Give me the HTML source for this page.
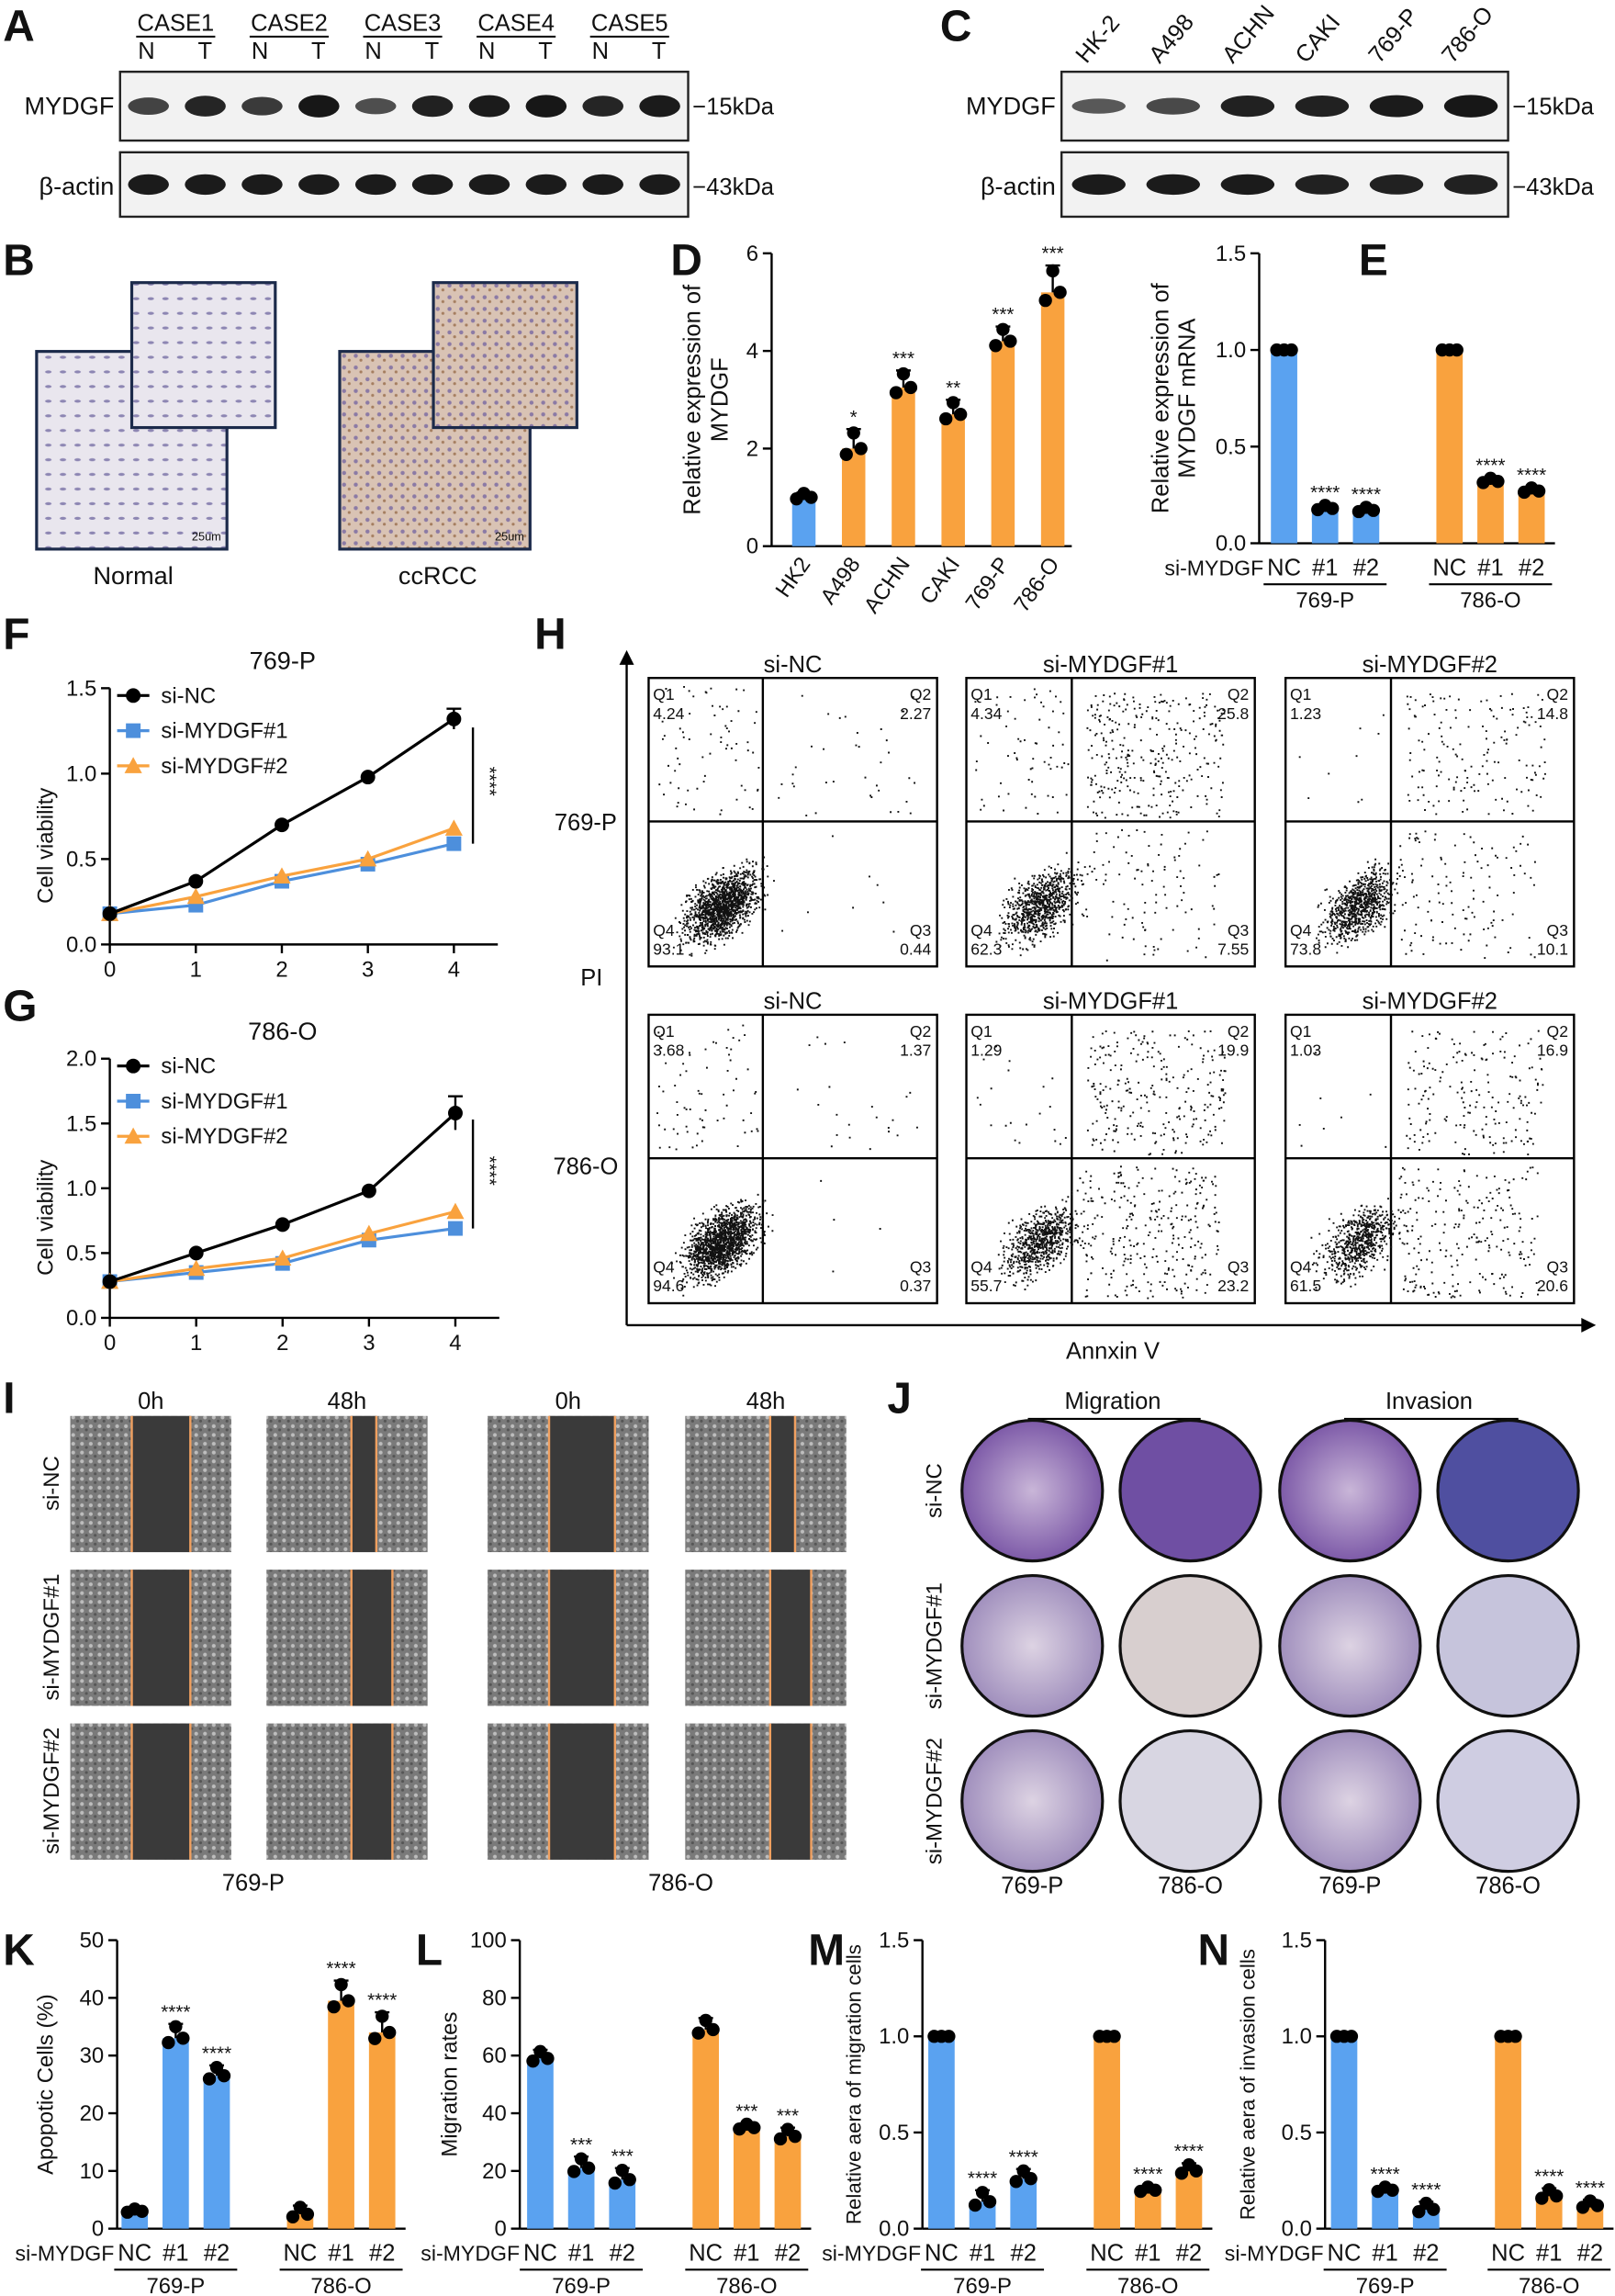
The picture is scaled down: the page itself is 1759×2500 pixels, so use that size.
<!DOCTYPE html>
<html><head><meta charset="utf-8"><style>
html,body{margin:0;padding:0;background:#fff}
svg{display:block}
text{font-family:"Liberation Sans",Arial,sans-serif;fill:#111}
</style></head><body>
<svg id="fig" width="1759" height="2500" viewBox="0 0 1103 1568" preserveAspectRatio="none" xmlns="http://www.w3.org/2000/svg">
<defs>
<pattern id="cells" width="6" height="6" patternUnits="userSpaceOnUse"><rect width="6" height="6" fill="#7a7a7a"/><circle cx="2" cy="2" r="1.3" fill="#bdbdbd"/><circle cx="5" cy="4.5" r="1" fill="#555"/></pattern>
<pattern id="ihcN" width="10" height="10" patternUnits="userSpaceOnUse"><rect width="10" height="10" fill="#e9e6ee"/><ellipse cx="3" cy="4" rx="2.2" ry="1" fill="#8d86b3"/></pattern>
<pattern id="ihcT" width="8" height="8" patternUnits="userSpaceOnUse"><rect width="8" height="8" fill="#d9c3b4"/><circle cx="3" cy="3" r="1.4" fill="#8b7aa5"/><circle cx="6.5" cy="6" r="1" fill="#a57e60"/></pattern>
<radialGradient id="migA"><stop offset="0" stop-color="#c9b6d8"/><stop offset="1" stop-color="#7d5aa8"/></radialGradient>
<radialGradient id="migB"><stop offset="0" stop-color="#ddd3e3"/><stop offset="1" stop-color="#a08fbd"/></radialGradient>
</defs>
<g id="root"></g>
</svg>
<script>
// ---- data ----
const dCats=["HK2","A498","ACHN","CAKI","769-P","786-O"];
const dVals=[1.0,2.0,3.25,2.7,4.2,5.2];
const dStars=["","*","***","**","***","***"];
const eVals769=[1,0.18,0.17], eVals786=[1,0.32,0.27];
const fX=[0,1,2,3,4];
const fNC=[0.18,0.37,0.70,0.98,1.32], fS1=[0.18,0.23,0.37,0.47,0.59], fS2=[0.18,0.28,0.40,0.50,0.68];
const gNC=[0.28,0.50,0.72,0.98,1.58], gS1=[0.28,0.35,0.42,0.60,0.69], gS2=[0.28,0.38,0.46,0.65,0.82];
const hQ1=[["4.24","2.27","0.44","93.1"],["4.34","25.8","7.55","62.3"],["1.23","14.8","10.1","73.8"]];
const hQ2=[["3.68","1.37","0.37","94.6"],["1.29","19.9","23.2","55.7"],["1.03","16.9","20.6","61.5"]];
const kVals769=[3,33,26.5], kVals786=[2.5,39.5,34];
const lVals769=[59,21,17], lVals786=[69,35,32];
const mVals769=[1,0.14,0.26], mVals786=[1,0.20,0.30];
const nVals769=[1,0.20,0.10], nVals786=[1,0.17,0.12];
const BLUE="#5aa2f0", ORANGE="#f9a23e";
// ---- helpers ----
const NS="http://www.w3.org/2000/svg";
const root=document.getElementById('root');
function el(tag,attrs,parent,txt){const e=document.createElementNS(NS,tag);for(const k in attrs)e.setAttribute(k,attrs[k]);if(txt!==undefined)e.textContent=txt;(parent||root).appendChild(e);return e;}
function txt(x,y,s,size,anchor,parent,extra){const t=el('text',Object.assign({x:x,y:y,'font-size':size,'text-anchor':anchor||'middle'},extra||{}),parent,s);

return t;}
function line(x1,y1,x2,y2,w,c,p){return el('line',{x1,y1,x2,y2,stroke:c||'#000','stroke-width':w||1.5},p);}
function letter(s,x,y){const t=txt(x,y,s,30,'start',root,{'font-weight':'bold'});
}
let seed=7;function rnd(){seed=(seed*16807)%2147483647;return seed/2147483647;}
function gauss(){return (rnd()+rnd()+rnd()-1.5)/1.5;}

// ---- A / C blots ----
function blot(x0,x1,y0,y1,n,intens,name){const g=el('g',{});


el('rect',{x:x0,y:y0,width:x1-x0,height:y1-y0,fill:'#f2f2f2',stroke:'#222','stroke-width':1.5},g);
const w=(x1-x0)/n;for(let i=0;i<n;i++){el('ellipse',{cx:x0+w*(i+0.5),cy:(y0+y1)/2,rx:w*0.36,ry:(y1-y0)*0.14*(0.6+intens[i]*0.6),fill:'#111',opacity:0.55+0.45*intens[i]},g);}return g;}
letter('A',2,28);
const cases=["CASE1","CASE2","CASE3","CASE4","CASE5"];
cases.forEach((c,i)=>{const cx=120+i*77.5;txt(cx,21,c,16);line(cx-27,25,cx+27,25,1.2);txt(cx-20,40,'N',16);txt(cx+20,40,'T',16);});
txt(78,78,'MYDGF',17,'end');txt(78,133,'β-actin',17,'end');
blot(82,470,49,96,10,[0.5,0.8,0.6,0.95,0.4,0.85,0.9,0.95,0.8,0.9],'blot-a-mydgf');
blot(82,470,104,148,10,[0.9,0.9,0.9,0.9,0.9,0.9,0.9,0.9,0.9,0.9],'blot-a-actin');
txt(473,78,'−15kDa',16,'start');txt(473,133,'−43kDa',16,'start');
letter('C',642,28);
const cl=["HK-2","A498","ACHN","CAKI","769-P","786-O"];
cl.forEach((c,i)=>{txt(742+i*50,44,c,16,'start',root,{transform:`rotate(-50 ${742+i*50} 44)`});});
txt(721,78,'MYDGF',17,'end');txt(721,133,'β-actin',17,'end');
blot(725,1030,49,96,6,[0.3,0.45,0.85,0.85,0.9,0.95],'blot-c-mydgf');
blot(725,1030,104,148,6,[0.9,0.9,0.9,0.85,0.85,0.85],'blot-c-actin');
txt(1033,78,'−15kDa',16,'start');txt(1033,133,'−43kDa',16,'start');

// ---- B IHC ----
letter('B',2,188);
function ihc(x,y,w,h,fill,name){const r=el('rect',{x,y,width:w,height:h,fill,stroke:'#1b2a4a','stroke-width':2});

}
ihc(25,240,130,135,'url(#ihcN)','ihc-normal');ihc(90,193,98,99,'url(#ihcN)','ihc-normal-inset');
ihc(232,240,130,135,'url(#ihcT)','ihc-ccrcc');ihc(296,193,98,99,'url(#ihcT)','ihc-ccrcc-inset');
txt(141,369,'25um',8);txt(348,369,'25um',8);
txt(91,399,'Normal',17);txt(299,399,'ccRCC',17);

// ---- generic bar chart ----
function yAxis(p,x,y0,y1,vmin,vmax,ticks,fmt,fs){line(x,y0,x,y1,1.5,'#000',p);ticks.forEach(t=>{const y=y0-(t-vmin)/(vmax-vmin)*(y0-y1);line(x-6,y,x,y,1.5,'#000',p);txt(x-9,y+5,fmt(t),fs||15,'end',p);});}
function barSet(p,xs,vals,col,sc,y0,w,stars,spread){vals.forEach((v,i)=>{const x=xs[i],y=sc(v);
const b=el('rect',{x:x-w/2,y:y,width:w,height:y0-y,fill:col},p);


const sd=spread[i];line(x,sc(v+sd),x,y,1.5,'#000',p);line(x-5,sc(v+sd),x+5,sc(v+sd),1.5,'#000',p);
[[-5,v],[5,v],[0,v+sd*0.8]].forEach((d,j)=>el('circle',{cx:x+d[0],cy:sc(d[1]-(j==0?sd*0.3:0)),r:4.5,fill:'#000'},p));
if(stars&&stars[i])txt(x,sc(v+sd)-4,stars[i],13,'middle',p);});}
// D
(function(){const p=el('g',{});
letter('D',458,188);const y0=373,y1=173,sc=v=>y0-v/6*(y0-y1);
yAxis(p,527,y0,y1,0,6,[0,2,4,6],t=>t);line(527,y0,732,y0,1.5,'#000',p);
txt(478,273,'Relative expression of',16,'middle',p,{transform:'rotate(-90 478 273)'});txt(497,273,'MYDGF',16,'middle',p,{transform:'rotate(-90 497 273)'});
const xs=dCats.map((c,i)=>549+i*34);
barSet(p,xs.slice(0,1),dVals.slice(0,1),BLUE,sc,y0,16,null,[0.1]);
barSet(p,xs.slice(1),dVals.slice(1),ORANGE,sc,y0,16,dStars.slice(1),[0.4,0.35,0.3,0.3,0.55]);
dCats.forEach((c,i)=>txt(xs[i]+5,385,c,15,'end',p,{transform:`rotate(-55 ${xs[i]+5} 385)`}));})();
// E,K,L,M,N group charts
function groupChart(name,L,lx,ly,ax,y0,y1,vmax,ticks,fmt,v1,v2,xs1,xs2,stars1,stars2,title,tx,fs,sd){const p=el('g',{});
letter(L,lx,ly);const sc=v=>y0-v/vmax*(y0-y1);yAxis(p,ax,y0,y1,0,vmax,ticks,fmt);line(ax,y0,xs2[2]+16,y0,1.5,'#000',p);
title.forEach((t,i)=>txt(tx+i*18,(y0+y1)/2,t,fs,'middle',p,{transform:`rotate(-90 ${tx+i*18} ${(y0+y1)/2})`}));
barSet(p,xs1,v1,BLUE,sc,y0,18,stars1,sd[0]);barSet(p,xs2,v2,ORANGE,sc,y0,18,stars2,sd[1]);
txt(xs1[0]-14,y0+22,'si-MYDGF',14.5,'end',p);
[[xs1,'769-P'],[xs2,'786-O']].forEach(g=>{['NC','#1','#2'].forEach((s,i)=>txt(g[0][i],y0+22,s,16,'middle',p));line(g[0][0]-14,y0+28,g[0][2]+14,y0+28,1.3,'#000',p);txt(g[0][1],y0+44,g[1],15,'middle',p);});}
const st4=["","****","****"],st3=["","***","***"];
groupChart('chart-e','E',928,188,860,371,173,1.5,[0,0.5,1,1.5],t=>t.toFixed(1),eVals769,eVals786,[877,905,933],[990,1018,1046],st4,st4,['Relative expression of','MYDGF mRNA'],798,16,[[0,0.02,0.02],[0,0.02,0.02]]);
groupChart('chart-k','K',2,1342,80,1522,1325,50,[0,10,20,30,40,50],t=>t,kVals769,kVals786,[92,120,148],[205,233,261],st4,st4,['Apopotic Cells (%)'],36,15,[[0.5,2.5,1.8],[1.5,3.5,3.5]]);
groupChart('chart-l','L',284,1342,355,1522,1325,100,[0,20,40,60,80,100],t=>t,lVals769,lVals786,[369,397,425],[482,510,538],st3,st3,['Migration rates'],312,15,[[3,4,4],[4,1.5,3]]);
groupChart('chart-m','M',552,1342,630,1522,1325,1.5,[0,0.5,1,1.5],t=>t.toFixed(1),mVals769,mVals786,[643,671,699],[756,784,812],st4,st4,['Relative aera of migration cells'],588,14,[[0,0.06,0.05],[0,0.02,0.04]]);
groupChart('chart-n','N',818,1342,905,1522,1325,1.5,[0,0.5,1,1.5],t=>t.toFixed(1),nVals769,nVals786,[918,946,974],[1030,1058,1086],st4,st4,['Relative aera of invasion cells'],857,14,[[0,0.02,0.04],[0,0.04,0.03]]);

// ---- F / G line charts ----
function lineChart(name,L,ly,ax,x4,y0,y1,vmax,ticks,nc,s1,s2,title,sd){const p=el('g',{});
letter(L,2,ly);const sx=v=>ax+v/4*(x4-ax),sy=v=>y0-v/vmax*(y0-y1);
yAxis(p,ax,y0,y1,0,vmax,ticks,t=>t.toFixed(1));line(ax,y0,x4+30,y0,1.5,'#000',p);
fX.forEach(v=>{line(sx(v),y0,sx(v),y0+6,1.5,'#000',p);txt(sx(v),y0+22,v,15,'middle',p);});
txt(193,y1-13,title,17,'middle',p);txt(36,(y0+y1)/2+20,'Cell viability',15,'middle',p,{transform:`rotate(-90 36 ${(y0+y1)/2+20})`});
[[s1,'#4d8fdc','sq'],[s2,ORANGE,'tri'],[nc,'#000','ci']].forEach(sr=>{const pts=fX.map((x,i)=>sx(x)+','+sy(sr[0][i])).join(' ');
const pl=el('polyline',{points:pts,fill:'none',stroke:sr[1],'stroke-width':2},p);
fX.forEach((x,i)=>{const cx=sx(x),cy=sy(sr[0][i]);if(sr[2]=='sq')el('rect',{x:cx-5,y:cy-5,width:10,height:10,fill:sr[1]},p);else if(sr[2]=='tri')el('polygon',{points:`${cx},${cy-6} ${cx-6},${cy+5} ${cx+6},${cy+5}`,fill:sr[1]},p);else el('circle',{cx,cy,r:5,fill:'#000'},p);});});
const top=sy(nc[4]+sd),bot=sy(nc[4]-sd);line(sx(4),top,sx(4),bot,1.5,'#000',p);line(sx(4)-5,top,sx(4)+5,top,1.5,'#000',p);
line(323,sy(nc[4]-0.05),323,sy(s1[4]),1.5,'#000',p);txt(330,(sy(nc[4])+sy(s1[4]))/2,'****',13,'middle',p,{transform:`rotate(90 330 ${(sy(nc[4])+sy(s1[4]))/2})`});
[['si-NC','#000','ci'],['si-MYDGF#1','#4d8fdc','sq'],['si-MYDGF#2',ORANGE,'tri']].forEach((lg,i)=>{const y=y1+5+i*24;line(80,y,102,y,2,lg[1],p);
if(lg[2]=='ci')el('circle',{cx:91,cy:y,r:5,fill:'#000'},p);else if(lg[2]=='sq')el('rect',{x:86,y:y-5,width:10,height:10,fill:lg[1]},p);else el('polygon',{points:`91,${y-6} 85,${y+5} 97,${y+5}`,fill:lg[1]},p);
txt(110,y+5,lg[0],15,'start',p);});}
lineChart('chart-f','F',443,75,310,645,470,1.5,[0,0.5,1,1.5],fNC,fS1,fS2,'769-P',0.06);
lineChart('chart-g','G',697,75,311,900,723,2.0,[0,0.5,1,1.5,2],gNC,gS1,gS2,'786-O',0.13);

// ---- H flow ----
letter('H',365,443);
(function(){const p=el('g',{});
line(428,905,1082,905,1.5,'#000',p);el('polygon',{points:'1090,905 1080,900 1080,910',fill:'#000'},p);
line(428,905,428,452,1.5,'#000',p);el('polygon',{points:'428,444 423,454 433,454',fill:'#000'},p);
txt(404,673,'PI',16,'middle',p);txt(760,928,'Annxin V',16,'middle',p);txt(400,567,'769-P',16,'middle',p);txt(400,802,'786-O',16,'middle',p);
const cols=[443,660,878],names=['si-NC','si-MYDGF#1','si-MYDGF#2'],W=197,H=197;
[[463,hQ1],[693,hQ2]].forEach((row,r)=>{cols.forEach((x,c)=>{const y=row[0],q=row[1][c];txt(x+W/2,y-4,names[c],16,'middle',p);
el('rect',{x,y,width:W,height:H,fill:'#fff',stroke:'#000','stroke-width':1.5},p);
const mx=x+(c==0?78:72),my=y+98;line(mx,y,mx,y+H,1.5,'#000',p);line(x,my,x+W,my,1.5,'#000',p);
let d='';const n=[1600,1300,1100][c];for(let i=0;i<n;i++){const f=rnd();let px,py;const qv=q.map(parseFloat);
if(f<qv[3]/100){px=x+40+gauss()*30+(rnd()*20);py=y+160+gauss()*30-(px-x-40)*0.5;}else if(f<(qv[3]+qv[1])/100){px=mx+10+rnd()*95;py=y+10+rnd()*85;}else if(f<(qv[3]+qv[1]+qv[2])/100){px=mx+5+rnd()*95;py=my+5+rnd()*90;}else{px=x+5+rnd()*(mx-x-8);py=y+5+rnd()*88;}
px=Math.max(x+2,Math.min(x+W-2,px));py=Math.max(y+2,Math.min(y+H-2,py));d+=`M${px.toFixed(1)} ${py.toFixed(1)}h1.2v1.2h-1.2z`;}
el('path',{d,fill:'#111'},p);
txt(x+3,y+15,'Q1',11,'start',p);txt(x+3,y+28,q[0],11,'start',p);txt(x+W-4,y+15,'Q2',11,'end',p);txt(x+W-4,y+28,q[1],11,'end',p);
txt(x+3,y+176,'Q4',11,'start',p);txt(x+3,y+189,q[3],11,'start',p);txt(x+W-4,y+176,'Q3',11,'end',p);txt(x+W-4,y+189,q[2],11,'end',p);});});})();

// ---- I wound ----
letter('I',2,965);
(function(){const p=el('g',{});
const xs=[48,182,333,468],rows=[967,1072,1177],gaps=[[40,35],[55,17],[45,40],[55,17]];
['0h','48h','0h','48h'].forEach((t,i)=>txt(xs[i]+55,962,t,16,'middle',p));
['si-NC','si-MYDGF#1','si-MYDGF#2'].forEach((t,i)=>txt(40,rows[i]+46,t,15,'middle',p,{transform:`rotate(-90 40 ${rows[i]+46})`}));
rows.forEach((y,r)=>xs.forEach((x,c)=>{el('rect',{x,y,width:110,height:93,fill:'url(#cells)'},p);
const g=gaps[c],w=c%2?(r==0?g[1]:28):g[0];const gx=x+(c%2?58:42);el('rect',{x:gx,y,width:w,height:93,fill:'#3a3a3a'},p);
line(gx,y,gx,y+93,1.5,'#f0a060',p);line(gx+w,y,gx+w,y+93,1.5,'#f0a060',p);}));
txt(173,1291,'769-P',16,'middle',p);txt(465,1291,'786-O',16,'middle',p);})();

// ---- J transwell ----
letter('J',606,965);
(function(){const p=el('g',{});
txt(760,962,'Migration',16,'middle',p);line(702,969,820,969,1.3,'#000',p);txt(976,962,'Invasion',16,'middle',p);line(918,969,1037,969,1.3,'#000',p);
const cx=[705,813,922,1030],cy=[1018,1124,1230];
['si-NC','si-MYDGF#1','si-MYDGF#2'].forEach((t,i)=>txt(643,cy[i],t,15,'middle',p,{transform:`rotate(-90 643 ${cy[i]})`}));
const fills=[['url(#migA)','#6f4fa3','url(#migA)','#4f4fa0'],['url(#migB)','#d8cfcf','url(#migB)','#c6c4dc'],['url(#migB)','#d8d6e2','url(#migB)','#cfcde2']];
cy.forEach((y,r)=>cx.forEach((x,c)=>el('circle',{cx:x,cy:y,r:48,fill:fills[r][c],stroke:'#111','stroke-width':2},p)));
['769-P','786-O','769-P','786-O'].forEach((t,i)=>txt(cx[i],1293,t,16,'middle',p));})();
</script>
</body></html>
